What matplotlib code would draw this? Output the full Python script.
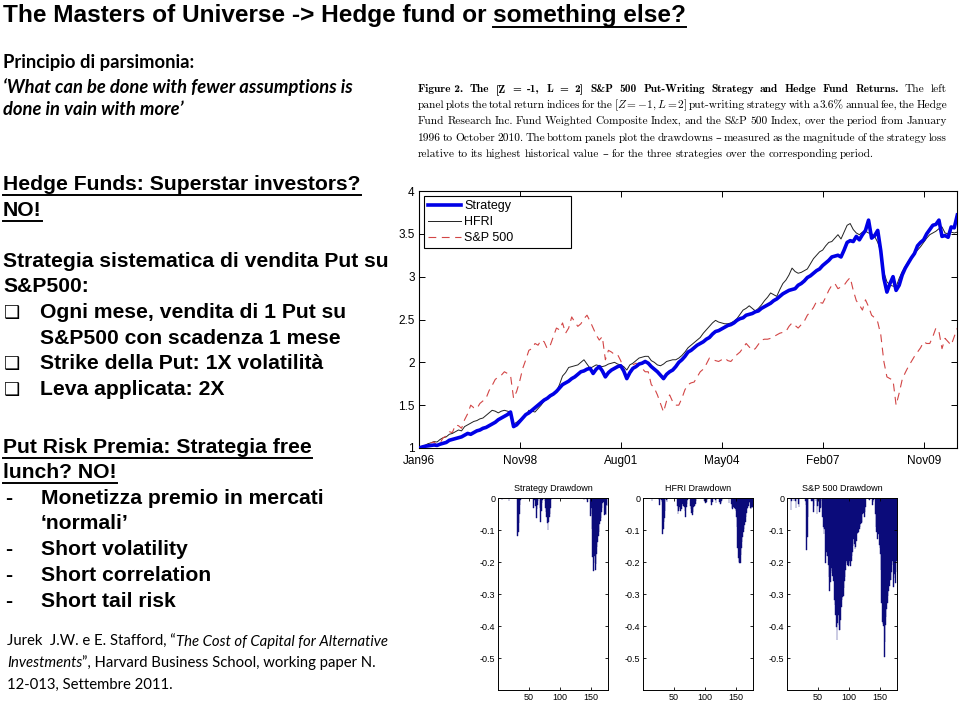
import numpy as np
import matplotlib.pyplot as plt
from matplotlib.lines import Line2D

plt.rcParams['mathtext.fontset'] = 'cm'

# monthly total return indices, Jan 1996 - Oct 2010
strategy = [
    1.00, 1.01, 1.02, 1.025, 1.03, 1.035, 1.03, 1.045, 1.055, 1.065,
    1.09, 1.10, 1.11, 1.12, 1.13, 1.15, 1.17, 1.16, 1.18, 1.20,
    1.21, 1.23, 1.24, 1.26, 1.28, 1.30, 1.33, 1.35, 1.37, 1.39, 1.42,
    1.25, 1.27, 1.31, 1.35, 1.39, 1.41, 1.44, 1.47, 1.50,
    1.53, 1.56, 1.58, 1.61, 1.63, 1.66, 1.70, 1.74, 1.76, 1.78,
    1.81, 1.83, 1.86, 1.89, 1.90, 1.92, 1.93, 1.87, 1.92, 1.95,
    1.90, 1.83, 1.88, 1.91, 1.93, 1.95, 1.96, 1.90, 1.81, 1.88,
    1.93, 1.95, 1.98, 1.99, 2.01, 1.99, 1.95, 1.92, 1.89, 1.85,
    1.81, 1.86, 1.89, 1.91, 1.95, 2.00, 2.03, 2.07, 2.12, 2.14,
    2.17, 2.20, 2.22, 2.24, 2.27, 2.29, 2.33, 2.36, 2.37, 2.39,
    2.41, 2.43, 2.44, 2.46, 2.49, 2.51, 2.52, 2.55, 2.56, 2.57,
    2.59, 2.60, 2.63, 2.65, 2.67, 2.69, 2.72, 2.74, 2.77, 2.80,
    2.82, 2.84, 2.85, 2.86, 2.90, 2.92, 2.95, 2.99, 3.01, 3.04,
    3.07, 3.09, 3.13, 3.16, 3.19, 3.23, 3.24, 3.25, 3.23, 3.31,
    3.40, 3.42, 3.41, 3.47, 3.43, 3.49, 3.54, 3.66, 3.45, 3.48,
    3.54, 3.30, 2.98, 2.82, 2.92, 3.00, 2.84, 2.90, 3.02, 3.10,
    3.16, 3.22, 3.27, 3.36, 3.40, 3.43, 3.50, 3.55, 3.60, 3.61,
    3.66, 3.47, 3.48, 3.46, 3.58, 3.57, 3.72,
]
hfri = [
    1.00, 1.02, 1.03, 1.05, 1.06, 1.075, 1.07, 1.10, 1.12, 1.13,
    1.16, 1.17, 1.19, 1.21, 1.20, 1.25, 1.27, 1.29, 1.31, 1.32,
    1.34, 1.35, 1.38, 1.41, 1.44, 1.43, 1.41, 1.43, 1.44, 1.43, 1.42,
    1.28, 1.30, 1.33, 1.35, 1.38, 1.44, 1.43, 1.42, 1.46,
    1.50, 1.55, 1.57, 1.60, 1.62, 1.66, 1.74, 1.84, 1.88, 1.94,
    1.95, 1.96, 1.97, 2.00, 2.03, 1.98, 1.93, 1.95, 1.97, 1.96,
    1.95, 1.96, 1.98, 1.99, 2.00, 1.98, 1.97, 1.95, 1.91, 1.97,
    1.99, 2.02, 2.05, 2.06, 2.07, 2.07, 2.02, 2.00, 1.97, 1.96,
    1.98, 2.01, 2.02, 2.03, 2.03, 2.05, 2.08, 2.12, 2.17, 2.20,
    2.23, 2.26, 2.29, 2.34, 2.38, 2.42, 2.46, 2.49, 2.47, 2.46,
    2.45, 2.45, 2.46, 2.48, 2.51, 2.56, 2.61, 2.63, 2.66, 2.63,
    2.60, 2.63, 2.67, 2.72, 2.76, 2.81, 2.79, 2.77, 2.85, 2.92,
    2.96, 3.02, 3.10, 3.06, 3.04, 3.05, 3.07, 3.09, 3.15, 3.21,
    3.25, 3.29, 3.31, 3.36, 3.40, 3.41, 3.45, 3.49, 3.44, 3.52,
    3.60, 3.62, 3.55, 3.51, 3.49, 3.52, 3.53, 3.51, 3.50, 3.47,
    3.40, 3.29, 3.05, 2.94, 2.90, 2.89, 2.88, 2.98, 3.06, 3.12,
    3.18, 3.23, 3.27, 3.31, 3.35, 3.40, 3.45, 3.49, 3.51, 3.53,
    3.56, 3.58, 3.51, 3.50, 3.52, 3.51, 3.52,
]
sp500 = [
    1.00, 1.01, 1.02, 1.05, 1.06, 1.07, 1.03, 1.06, 1.12, 1.14,
    1.19, 1.18, 1.27, 1.26, 1.23, 1.33, 1.40, 1.50, 1.47, 1.46,
    1.52, 1.55, 1.58, 1.67, 1.73, 1.80, 1.83, 1.85, 1.89, 1.87, 1.85,
    1.58, 1.66, 1.78, 1.93, 2.03, 2.14, 2.16, 2.22, 2.20,
    2.26, 2.24, 2.16, 2.20, 2.30, 2.40, 2.38, 2.46, 2.34, 2.40,
    2.53, 2.47, 2.42, 2.45, 2.51, 2.55, 2.48, 2.40, 2.32, 2.26,
    2.30, 2.03, 2.14, 2.12, 2.09, 2.09, 2.02, 1.92, 1.81, 1.88,
    1.97, 1.99, 1.95, 1.93, 1.89, 1.89, 1.74, 1.70, 1.62, 1.52,
    1.42, 1.55, 1.62, 1.54, 1.50, 1.50, 1.58, 1.68, 1.74, 1.76,
    1.77, 1.83, 1.89, 1.92, 1.98, 2.05, 2.03, 2.02, 2.01, 2.03,
    2.05, 2.02, 2.01, 2.05, 2.09, 2.12, 2.17, 2.22, 2.18, 2.14,
    2.16, 2.21, 2.26, 2.27, 2.27, 2.28, 2.30, 2.32, 2.34, 2.35,
    2.36, 2.42, 2.46, 2.43, 2.40, 2.44, 2.48, 2.55, 2.59, 2.64,
    2.71, 2.70, 2.69, 2.76, 2.84, 2.90, 2.92, 2.86, 2.88, 2.90,
    2.95, 2.99, 2.84, 2.72, 2.67, 2.61, 2.73, 2.65, 2.55, 2.52,
    2.47, 2.32, 2.01, 1.83, 1.81, 1.79, 1.50, 1.64, 1.80, 1.88,
    1.95, 2.01, 2.07, 2.12, 2.17, 2.24, 2.22, 2.22, 2.30, 2.40,
    2.36, 2.16, 2.28, 2.24, 2.20, 2.30, 2.40,
]
xtick_pos = [1, 34, 67, 100, 133, 166]
xtick_labels = ['Jan96', 'Nov98', 'Aug01', 'May04', 'Feb07', 'Nov09']
series_names = ['Strategy', 'HFRI', 'S&P 500']
dd_titles = ['Strategy Drawdown', 'HFRI Drawdown', 'S&P 500 Drawdown']

W, H = 960, 704
fig = plt.figure(figsize=(W / 100, H / 100), dpi=100)
renderer = fig.canvas.get_renderer()

SANS = ['Liberation Sans', 'DejaVu Sans']
CAL = ['Lato', 'DejaVu Sans']
SERIF = ['cmr10', 'DejaVu Serif']
SERIF_B = ['cmb10', 'DejaVu Serif']


def box(x0, y0, x1, y1):
    return [x0 / W, 1 - y1 / H, (x1 - x0) / W, (y1 - y0) / H]


def put(x, y, parts, size, family, underline=False, ul_off=4.5):
    start = x
    for s, style in parts:
        t = fig.text(x / W, 1 - y / H, s, fontsize=size, family=family,
                     va='baseline', **style)
        x += t.get_window_extent(renderer).width
    if underline:
        fig.add_artist(Line2D([start / W, x / W], [1 - (y + ul_off) / H] * 2,
                              color='black', lw=1.4))
    return x


# ---- main chart ----
ax = fig.add_axes(box(418.7, 191, 957.3, 448))
n = np.arange(1, len(strategy) + 1)
ax.plot(n, strategy, color='#0000e6', lw=2.6, label=series_names[0], zorder=3)
ax.plot(np.arange(1, len(hfri) + 1), hfri, color='#222222', lw=0.7,
        label=series_names[1])
ax.plot(np.arange(1, len(sp500) + 1), sp500, color='#d24545', lw=0.8,
        ls=(0, (7, 5)), label=series_names[2])
ax.set_xlim(1, 177)
ax.set_ylim(1, 4)
ax.set_xticks(xtick_pos, xtick_labels)
ax.set_yticks([1, 1.5, 2, 2.5, 3, 3.5, 4], ['1', '1.5', '2', '2.5', '3', '3.5', '4'])
ax.tick_params(direction='in', top=True, right=True, labelsize=8.5, length=4,
               width=0.7, pad=3)
ax.tick_params(axis='x', pad=5)
for lab in ax.get_xticklabels() + ax.get_yticklabels():
    lab.set_family(SANS)
for s in ax.spines.values():
    s.set_linewidth(0.8)
leg = ax.legend(loc='upper left', bbox_to_anchor=(0.0098, 0, 0.273, 0.9805),
                mode='expand', fancybox=False, edgecolor='black',
                prop={'family': SANS, 'size': 9}, handlelength=2.6,
                borderaxespad=0, framealpha=1, labelspacing=0.3,
                borderpad=0.35, handletextpad=0.25)
leg.get_frame().set_linewidth(0.8)

# ---- drawdown panels ----
for k, (vals, title) in enumerate(zip([strategy, hfri, sp500], dd_titles)):
    v = np.asarray(vals)
    dd = v / np.maximum.accumulate(v) - 1
    left = [498, 643, 787][k]
    a = fig.add_axes(box(left, 498, left + 110, 690))
    a.bar(np.arange(1, len(v) + 1), dd, width=1.0, color='#0b0b7a',
          edgecolor='#0b0b7a', lw=0.3)
    a.set_xlim(0.5, 177.5)
    a.set_ylim(-0.6, 0)
    a.set_xticks([50, 100, 150])
    a.set_yticks([0, -0.1, -0.2, -0.3, -0.4, -0.5],
                 ['0', '-0.1', '-0.2', '-0.3', '-0.4', '-0.5'])
    a.tick_params(direction='in', top=True, right=True, labelsize=6.5,
                  length=2.5, width=0.6, pad=2)
    for lab in a.get_xticklabels() + a.get_yticklabels():
        lab.set_family(SANS)
    for s in a.spines.values():
        s.set_linewidth(0.7)
    a.set_title(title, fontsize=6.5, family=SANS, pad=5)

# ---- caption (justified) ----
cap_lines = [
    [('Figure 2.', 'b'), ('The', 'b'), ('[Z', 'b'), ('=', 'b'), ('-1,', 'b'),
     ('L', 'b'), ('=', 'b'), ('2]', 'b'), ('S&P', 'b'), ('500', 'b'),
     ('Put-Writing', 'b'), ('Strategy', 'b'), ('and', 'b'), ('Hedge', 'b'),
     ('Fund', 'b'), ('Returns.', 'b'), ('The', 'r'), ('left', 'r')],
    'panel plots the total return indices for the $[Z=-1,L=2]$ put-writing strategy with a 3.6% annual fee, the Hedge',
    'Fund Research Inc.  Fund Weighted Composite Index, and the S&P 500 Index, over the period from January',
    '1996 to October 2010. The bottom panels plot the drawdowns \u2013 measured as the magnitude of the strategy loss',
    'relative to its highest historical value \u2013 for the three strategies over the corresponding period.',
]
cap_base = [92, 108, 124, 141, 157]
x0, x1 = 418, 947
for i, (line, yb) in enumerate(zip(cap_lines, cap_base)):
    if isinstance(line, str):
        words = [(w, 'r') for w in line.split()]
    else:
        words = line
    texts = []
    for w, st in words:
        fam = SERIF_B if st == 'b' else SERIF
        texts.append(fig.text(0, 1 - yb / H, w, fontsize=8.2, family=fam,
                              va='baseline'))
    widths = [t.get_window_extent(renderer).width for t in texts]
    if i < len(cap_lines) - 1:
        gap = (x1 - x0 - sum(widths)) / (len(widths) - 1)
    else:
        gap = 3.0
    x = x0
    for t, w in zip(texts, widths):
        t.set_x(x / W)
        x += w + gap

# ---- slide text ----
B = {'weight': 'bold'}
BI = {'weight': 'bold', 'style': 'italic'}
x = put(3, 22, [('The Masters of Universe -> Hedge fund or ', B)], 17.6, SANS)
put(x, 22, [('something else?', B)], 17.6, SANS, underline=True, ul_off=4.5)

put(3, 68, [('Principio di parsimonia:', B)], 13.2, CAL)
put(3, 93, [('\u2018What can be done with fewer assumptions is', BI)], 13.2, CAL)
put(3, 115, [('done in vain with more\u2019', BI)], 13.2, CAL)

fs = 15.2
put(3, 190, [('Hedge Funds: Superstar investors?', B)], fs, SANS, underline=True)
put(3, 216, [('NO!', B)], fs, SANS, underline=True)
put(3, 267, [('Strategia sistematica di vendita Put su', B)], fs, SANS)
put(3, 292, [('S&P500:', B)], fs, SANS)
bullets = [(318, '\u2751', 'Ogni mese, vendita di 1 Put su'),
           (344, '', 'S&P500 con scadenza 1 mese'),
           (369, '\u2751', 'Strike della Put: 1X volatilit\u00e0'),
           (395, '\u2751', 'Leva applicata: 2X')]
for yb, mark, txt in bullets:
    if mark:
        put(4, yb, [(mark, {})], 13, SANS)
    put(40, yb, [(txt, B)], fs, SANS)

put(3, 453, [('Put Risk Premia: Strategia free', B)], fs, SANS, underline=True)
put(3, 478, [('lunch? NO!', B)], fs, SANS, underline=True)
dashes = [(504, '-', 'Monetizza premio in mercati'),
          (529, '', '\u2018normali\u2019'),
          (555, '-', 'Short volatility'),
          (581, '-', 'Short correlation'),
          (607, '-', 'Short tail risk')]
for yb, mark, txt in dashes:
    if mark:
        put(5, yb, [(mark, B)], fs, SANS)
    put(41, yb, [(txt, B)], fs, SANS)

I = {'style': 'italic'}
put(7, 646, [('Jurek  J.W. e E. Stafford, \u201c', {}),
             ('The Cost of Capital for Alternative', I)], 10.7, CAL)
put(7, 667, [('Investments', I),
             ('\u201d, Harvard Business School, working paper N.', {})], 10.7, CAL)
put(7, 689, [('12-013, Settembre 2011.', {})], 10.7, CAL)

fig.savefig('out.png', dpi=100)
